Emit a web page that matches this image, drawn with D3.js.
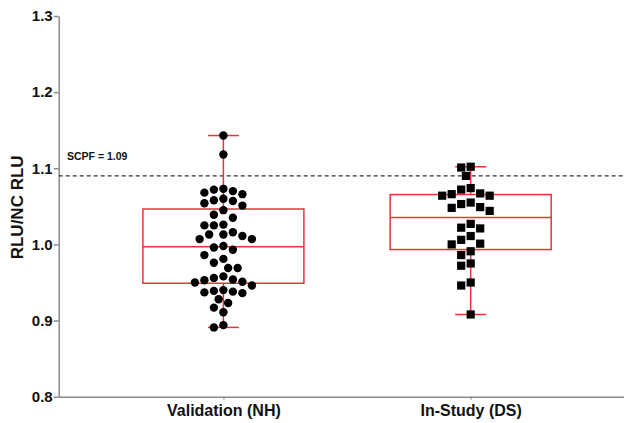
<!DOCTYPE html>
<html>
<head>
<meta charset="utf-8">
<script src="https://cdn.jsdelivr.net/npm/d3@7"></script>
<style>
  body { margin: 0; background: #fff; }
  svg text { font-family: "Liberation Sans", Arial, sans-serif; font-weight: bold; }
</style>
</head>
<body>
<div class="chart"></div>
<script>
const groups = ["Validation (NH)", "In-Study (DS)"]
const validationNH = [
  1.143, 1.118, 1.073, 1.072, 1.070, 1.068, 1.066, 1.060, 1.058, 1.057,
  1.054, 1.051, 1.045, 1.039, 1.035, 1.026, 1.025, 1.025, 1.016, 1.013,
  1.013, 1.011, 1.007, 1.007, 0.998, 0.996, 0.993, 0.986, 0.981, 0.976,
  0.969, 0.969, 0.958, 0.956, 0.954, 0.953, 0.951, 0.950, 0.946, 0.940,
  0.939, 0.938, 0.937, 0.936, 0.928, 0.923, 0.917, 0.911, 0.894, 0.891
]
const inStudyDS = [
  1.102, 1.101, 1.090, 1.074, 1.072, 1.067, 1.066, 1.064, 1.064, 1.055,
  1.053, 1.049, 1.048, 1.044, 1.027, 1.022, 1.021, 1.011, 1.006, 1.001,
  1.000, 0.991, 0.986, 0.975, 0.972, 0.950, 0.946, 0.908
]
const yTicks = [0.8, 0.9, 1.0, 1.1, 1.2, 1.3]
const cutoff = 1.09
const cutoffLabel = "SCPF = 1.09"
const yLabel = "RLU/NC RLU"

const width = 624
const height = 423
const margin = { left: 58.7, top: 16, bottom: 26.3 }
const red = "#e5343a"
const axisColor = "#8a8a8a"

const $svg = d3.select(".chart").append("svg")
  .attr("width", width)
  .attr("height", height)

const y = d3.scaleLinear()
  .domain([0.8, 1.3])
  .range([height - margin.bottom, margin.top])

// category positions: x = 1 and 2 on a continuous axis
const x = d3.scaleLinear()
  .domain([0.334, 2.62])
  .range([margin.left, width])

// quartiles the way Prism does it, position p*(n+1)
function quart(vals, p) {
  const s = vals.slice().sort(d3.ascending)
  const pos = p * (s.length + 1) - 1
  const lo = Math.floor(pos)
  const f = pos - lo
  return s[lo] + f * ((s[lo + 1] ?? s[lo]) - s[lo])
}

// simple beeswarm, stepping out from the centre
function swarm(vals, cx, dia) {
  const placed = []
  const pts = vals.map(v => ({ v, y: y(v) })).sort((a, b) => a.y - b.y)
  pts.forEach(p => {
    for (let k = 0; k < 60; k++) {
      const off = k === 0 ? 0 : (k % 2 ? -1 : 1) * Math.ceil(k / 2) * dia / 2
      const px = cx + off
      if (placed.every(q => Math.hypot(q.x - px, q.y - p.y) >= dia)) {
        p.x = px
        placed.push(p)
        break
      }
    }
  })
  return pts
}

// axes
const $yAxis = $svg.append("g")
  .attr("transform", `translate(${margin.left},0)`)
  .call(d3.axisLeft(y).tickValues(yTicks).tickFormat(d3.format(".1f")).tickSize(5).tickSizeOuter(0))
$yAxis.select(".domain").attr("stroke", axisColor).attr("stroke-width", 1.5)
$yAxis.selectAll(".tick line").attr("stroke", axisColor).attr("stroke-width", 1.5)
$yAxis.selectAll(".tick text").attr("font-size", 15).attr("fill", "#111").attr("x", -6)

const $xAxis = $svg.append("g")
  .attr("transform", `translate(0,${height - margin.bottom})`)
  .call(d3.axisBottom(x).tickValues([1, 2]).tickFormat(d => groups[d - 1]).tickSize(3).tickSizeOuter(0))
$xAxis.select(".domain").attr("stroke", axisColor).attr("stroke-width", 1.5)
$xAxis.selectAll(".tick line").attr("stroke", axisColor).attr("stroke-width", 1)
$xAxis.selectAll(".tick text").attr("font-size", 16).attr("fill", "#111").attr("y", 8)

$svg.append("text")
  .attr("transform", `translate(23,${(y(0.8) + y(1.3)) / 2 + 1}) rotate(-90)`)
  .attr("text-anchor", "middle")
  .attr("font-size", 17)
  .attr("fill", "#111")
  .text(yLabel)

// cutoff line
$svg.append("line")
  .attr("x1", margin.left).attr("x2", width)
  .attr("y1", y(cutoff)).attr("y2", y(cutoff))
  .attr("stroke", "#333").attr("stroke-width", 1.4)
  .attr("stroke-dasharray", "4,3")
$svg.append("text")
  .attr("x", 67).attr("y", y(cutoff) - 16)
  .attr("font-size", 10.5)
  .attr("fill", "#111")
  .text(cutoffLabel)

const series = [validationNH, inStudyDS]
const boxW = 161
const capW = 31

series.forEach((vals, i) => {
  const cx = x(i + 1)
  const q1 = quart(vals, 0.25), med = quart(vals, 0.5), q3 = quart(vals, 0.75)
  const lo = d3.min(vals), hi = d3.max(vals)
  const $g = $svg.append("g")
    .attr("stroke", red).attr("stroke-width", 1.5).attr("fill", "none")
  $g.append("line").attr("x1", cx).attr("x2", cx).attr("y1", y(hi)).attr("y2", y(q3))
  $g.append("line").attr("x1", cx).attr("x2", cx).attr("y1", y(q1)).attr("y2", y(lo))
  $g.append("line").attr("x1", cx - capW / 2).attr("x2", cx + capW / 2).attr("y1", y(hi)).attr("y2", y(hi))
  $g.append("line").attr("x1", cx - capW / 2).attr("x2", cx + capW / 2).attr("y1", y(lo)).attr("y2", y(lo))
  $g.append("rect")
    .attr("x", cx - boxW / 2).attr("width", boxW)
    .attr("y", y(q3)).attr("height", y(q1) - y(q3))
  $g.append("line").attr("x1", cx - boxW / 2).attr("x2", cx + boxW / 2).attr("y1", y(med)).attr("y2", y(med))

  const pts = swarm(vals, cx, 9.5)
  const $pts = $svg.append("g").attr("fill", "#000")
  if (i === 0) {
    $pts.selectAll("circle").data(pts).enter().append("circle")
      .attr("cx", d => d.x).attr("cy", d => d.y).attr("r", 4.2)
  } else {
    $pts.selectAll("rect").data(pts).enter().append("rect")
      .attr("x", d => d.x - 4.1).attr("y", d => d.y - 4.1)
      .attr("width", 8.2).attr("height", 8.2)
  }
})
</script>
</body>
</html>
